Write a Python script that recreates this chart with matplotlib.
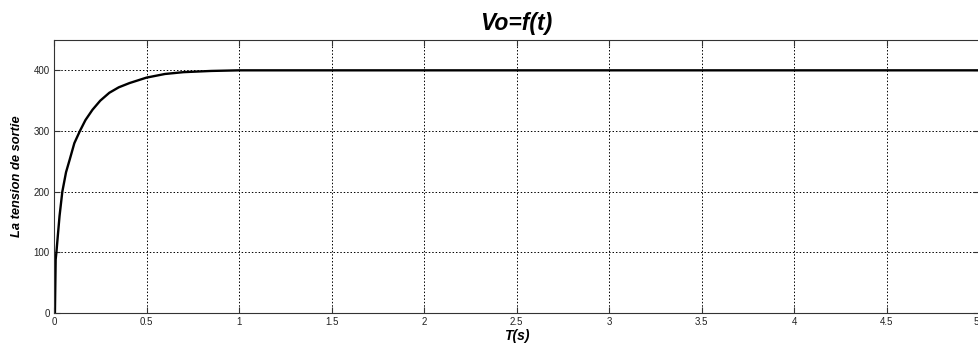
import matplotlib
matplotlib.use('Agg')
import matplotlib.pyplot as plt

# values
t = [0.0, 0.005, 0.009, 0.013, 0.02, 0.03, 0.045, 0.065, 0.085, 0.11, 0.14,
     0.17, 0.208, 0.25, 0.299, 0.35, 0.408, 0.5, 0.6, 0.7, 0.85, 1.0, 2.0, 3.0, 4.0, 5.0]
v = [0.0, 0.0, 88, 100, 125, 160, 200, 232, 253, 280, 300,
     318, 335, 350, 363, 372, 379, 388, 394, 397, 399, 400, 400, 400, 400, 400]

xticks = [0, 0.5, 1, 1.5, 2, 2.5, 3, 3.5, 4, 4.5, 5]
xticklabels = ['0', '0.5', '1', '1.5', '2', '2.5', '3', '3.5', '4', '4.5', '5']
yticks = [0, 100, 200, 300, 400]

plt.rcParams['font.family'] = ['Liberation Sans', 'DejaVu Sans']

fig = plt.figure(figsize=(9.79, 3.49), dpi=100)
ax = fig.add_axes([54 / 979, 36 / 349, 925 / 979, 273 / 349])

ax.plot(t, v, color='black', linewidth=1.7)
ax.set_xlim(0, 5)
ax.set_ylim(0, 450)
ax.set_xticks(xticks)
ax.set_xticklabels(xticklabels)
ax.get_xticklabels()[-1].set_horizontalalignment('right')
ax.set_yticks(yticks)
ax.tick_params(direction='in', length=4, labelsize=7, colors='#333333', pad=3,
               top=True, right=True, labelcolor='#222222')
ax.grid(True, color='black', linestyle=(0, (1.5, 2)), linewidth=0.7)
for s in ax.spines.values():
    s.set_color('#333333')
    s.set_linewidth(0.8)

ax.set_title('Vo=f(t)', fontsize=16.5, fontweight='bold', style='italic', pad=7)
ax.set_xlabel('T(s)', fontsize=10, fontweight='bold', style='italic', labelpad=1)
ax.set_ylabel('La tension de sortie', fontsize=9.3, fontweight='bold', style='italic', labelpad=8)

fig.savefig('out.png', dpi=100)
